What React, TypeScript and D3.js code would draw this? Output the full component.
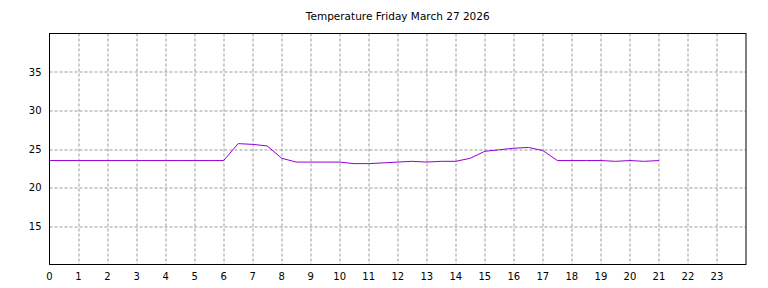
import React, { useEffect, useRef } from "react";
import * as d3 from "d3";

const hours = [
  0, 0.5, 1, 1.5, 2, 2.5, 3, 3.5, 4, 4.5, 5, 5.5, 6, 6.5, 7, 7.5, 8, 8.5, 9, 9.5,
  10, 10.5, 11, 11.5, 12, 12.5, 13, 13.5, 14, 14.5, 15, 15.5, 16, 16.5, 17, 17.5,
  18, 18.5, 19, 19.5, 20, 20.5, 21,
];
const temps = [
  23.5, 23.5, 23.5, 23.5, 23.5, 23.5, 23.5, 23.5, 23.5, 23.5, 23.5, 23.5, 23.5,
  25.7, 25.6, 25.4, 23.8, 23.3, 23.3, 23.3, 23.3, 23.1, 23.1, 23.2, 23.3, 23.4,
  23.3, 23.4, 23.4, 23.8, 24.7, 24.9, 25.1, 25.2, 24.8, 23.5, 23.5, 23.5, 23.5,
  23.4, 23.5, 23.4, 23.5,
];
const xTicks = d3.range(0, 24);
const yTicks = [15, 20, 25, 30, 35];
const title = "Temperature Friday March 27 2026";

const W = 768,
  H = 288;
const margin = { top: 33.5, right: 22, bottom: 23.5, left: 49.5 };

export default function App() {
  const ref = useRef<SVGSVGElement>(null);

  useEffect(() => {
    const svg = d3.select(ref.current);
    svg.selectAll("*").remove();
    const width = W - margin.left - margin.right;
    const height = H - margin.top - margin.bottom;
    const font = "'DejaVu Sans', sans-serif";

    const x = d3.scaleLinear().domain([0, 24]).range([0, width]);
    const y = d3.scaleLinear().domain([10, 40]).range([height, 0]);

    svg
      .append("text")
      .attr("x", margin.left + width / 2)
      .attr("y", 20)
      .attr("text-anchor", "middle")
      .attr("font-family", font)
      .attr("font-size", 10.5)
      .text(title);

    const g = svg
      .append("g")
      .attr("transform", `translate(${margin.left}, ${margin.top})`);

    // grid
    g.selectAll(".vgrid")
      .data(xTicks.filter((d) => d > 0))
      .join("line")
      .attr("x1", (d) => Math.round(x(d)) + 0.5)
      .attr("x2", (d) => Math.round(x(d)) + 0.5)
      .attr("y1", 0)
      .attr("y2", height)
      .attr("stroke", "#999")
      .attr("stroke-dasharray", "3,2");
    g.selectAll(".hgrid")
      .data(yTicks)
      .join("line")
      .attr("x1", 0)
      .attr("x2", width)
      .attr("y1", (d) => Math.round(y(d)) + 0.5)
      .attr("y2", (d) => Math.round(y(d)) + 0.5)
      .attr("stroke", "#999")
      .attr("stroke-dasharray", "3,2");

    const line = d3
      .line<number>()
      .x((d, i) => x(hours[i]))
      .y((d) => y(d));
    g.append("path")
      .datum(temps)
      .attr("fill", "none")
      .attr("stroke", "#9400d3")
      .attr("stroke-width", 1)
      .attr("d", line);

    g.append("rect")
      .attr("x", 0)
      .attr("y", 0)
      .attr("width", width)
      .attr("height", height)
      .attr("fill", "none")
      .attr("stroke", "#000");

    g.selectAll(".xl")
      .data(xTicks)
      .join("text")
      .attr("x", (d) => x(d))
      .attr("y", height + 15)
      .attr("text-anchor", "middle")
      .attr("font-family", font)
      .attr("font-size", 10)
      .text((d) => d);
    g.selectAll(".yl")
      .data(yTicks)
      .join("text")
      .attr("x", -8)
      .attr("y", (d) => y(d) + 3.5)
      .attr("text-anchor", "end")
      .attr("font-family", font)
      .attr("font-size", 10)
      .text((d) => d);
  }, []);

  return (
    <div style={{ position: "absolute", left: 0, top: 0 }}>
      <svg ref={ref} width={W} height={H} style={{ display: "block", background: "#fff" }} />
    </div>
  );
}
